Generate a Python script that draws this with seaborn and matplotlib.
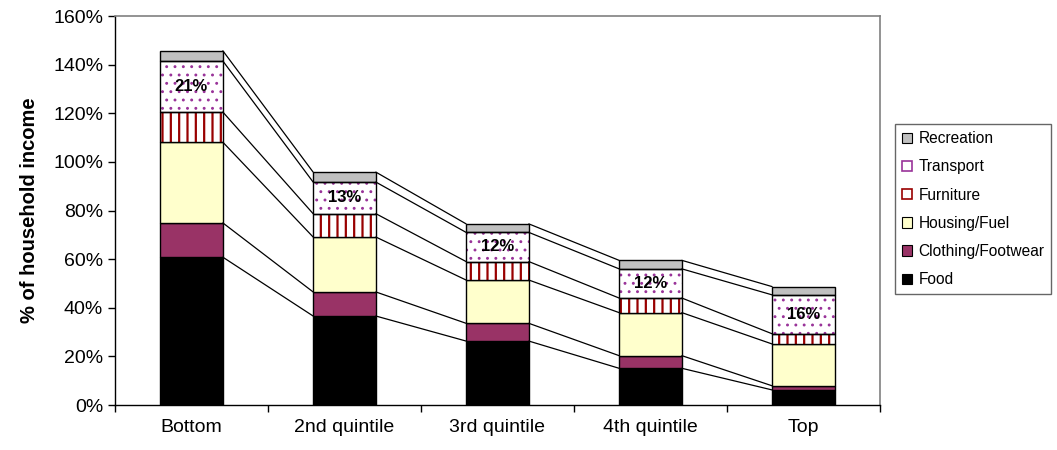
import numpy as np
import matplotlib
matplotlib.use("Agg")
import matplotlib.pyplot as plt
from matplotlib.patches import Patch, Rectangle
import seaborn as sns

# Household spending by income quintile, as % of household income
quintiles = ["Bottom", "2nd quintile", "3rd quintile", "4th quintile", "Top"]
food = [60.8, 36.6, 26.3, 15.1, 6.2]
clothing = [14.1, 9.9, 7.3, 5.2, 1.7]
housing = [33.2, 22.6, 17.8, 17.7, 17.2]
furniture = [12.4, 9.6, 7.6, 6.0, 4.2]
transport = [21, 13, 12, 12, 16]
recreation = [4.2, 4.1, 3.5, 3.5, 3.4]

series_names = ["Food", "Clothing/Footwear", "Housing/Fuel", "Furniture",
                "Transport", "Recreation"]
series_values = [food, clothing, housing, furniture, transport, recreation]

sns.set_style("ticks")
plt.rcParams["font.family"] = ["Liberation Sans", "DejaVu Sans"]
plt.rcParams["text.color"] = "black"
plt.rcParams["xtick.color"] = "black"
plt.rcParams["ytick.color"] = "black"
plt.rcParams["axes.labelcolor"] = "black"

# fill colour, hatch pattern, hatch colour, hatch line width per series
styles = {
    "Food": ("#000000", None, None, 1.0),
    "Clothing/Footwear": ("#993366", None, None, 1.0),
    "Housing/Fuel": ("#FFFFCC", None, None, 1.0),
    "Furniture": ("#FFFFFF", "||", "#990000", 1.6),
    "Transport": ("#FFFFFF", "..", "#993399", 0.9),
    "Recreation": ("#C0C0C0", None, None, 1.0),
}

fig = plt.figure(figsize=(10.57, 4.5), dpi=100)
ax = fig.add_axes([0.1088, 0.1, 0.7237, 0.8644])

bar_w = 0.41
bottom = np.zeros(len(quintiles))
tops = []
for name, vals in zip(series_names, series_values):
    vals = np.asarray(vals, dtype=float)
    face, hatch, hcol, hlw = styles[name]
    plt.rcParams["hatch.linewidth"] = hlw
    n_before = len(ax.patches)
    sns.barplot(x=quintiles, y=vals, bottom=bottom, color=face, saturation=1,
                width=bar_w, edgecolor="black", linewidth=1.0, ax=ax)
    new_patches = ax.patches[n_before:]
    if hatch is not None:
        for p in new_patches:
            p.set_hatch(hatch)
            p.set_edgecolor(hcol)
            p.set_linewidth(0)
            ax.add_patch(Rectangle(p.get_xy(), p.get_width(), p.get_height(),
                                   fill=False, edgecolor="black", linewidth=1.0,
                                   zorder=p.get_zorder() + 0.1))
    bottom = bottom + vals
    tops.append(bottom.copy())

# connector lines between segment tops of neighbouring bars
xs = np.arange(len(quintiles))
for top in tops:
    for i in range(len(quintiles) - 1):
        ax.plot([xs[i] + bar_w / 2, xs[i + 1] - bar_w / 2], [top[i], top[i + 1]],
                color="black", linewidth=0.9, zorder=1)

# transport share labels
trans_base = tops[3]
for i, v in enumerate(transport):
    ax.text(xs[i], trans_base[i] + v / 2, f"{v:.0f}%", ha="center", va="center",
            fontsize=12, fontweight="bold", color="black", zorder=5)

ax.set_xlim(-0.5, len(quintiles) - 0.5)
ax.set_ylim(0, 160)
ax.set_yticks(np.arange(0, 161, 20))
ax.set_yticklabels([f"{t}%" for t in range(0, 161, 20)], fontsize=14)
ax.set_xticks(np.arange(-0.5, len(quintiles), 1.0))
ax.set_xticklabels([])
ax.set_xticks(xs, minor=True)
ax.set_xticklabels(quintiles, minor=True, fontsize=14)
ax.tick_params(axis="x", which="minor", length=0, pad=10)
ax.tick_params(axis="both", which="major", length=5, width=1, color="black",
               direction="out")
ax.set_xlabel("")
ax.set_ylabel("% of household income", fontsize=14.5, fontweight="bold",
              labelpad=10)

for side in ("left", "bottom"):
    ax.spines[side].set_color("black")
    ax.spines[side].set_linewidth(1.0)
for side in ("top", "right"):
    ax.spines[side].set_visible(True)
    ax.spines[side].set_color("#808080")
    ax.spines[side].set_linewidth(1.2)

handles = []
for name in reversed(series_names):
    face, hatch, hcol, hlw = styles[name]
    if hatch is None:
        handles.append(Patch(facecolor=face, edgecolor="black", linewidth=0.8,
                             label=name))
    else:
        handles.append(Patch(facecolor=face, edgecolor=hcol, linewidth=1.2,
                             label=name))
leg = fig.legend(handles=handles, loc="center left",
                 bbox_to_anchor=(0.8467, 0.535), fontsize=11.2, frameon=True,
                 fancybox=False, edgecolor="#404040", handlelength=0.65,
                 handleheight=0.65, handletextpad=0.4, labelspacing=0.85,
                 borderpad=0.45, borderaxespad=0.0)
leg.get_frame().set_linewidth(1.0)

fig.savefig("out.png", dpi=100)
